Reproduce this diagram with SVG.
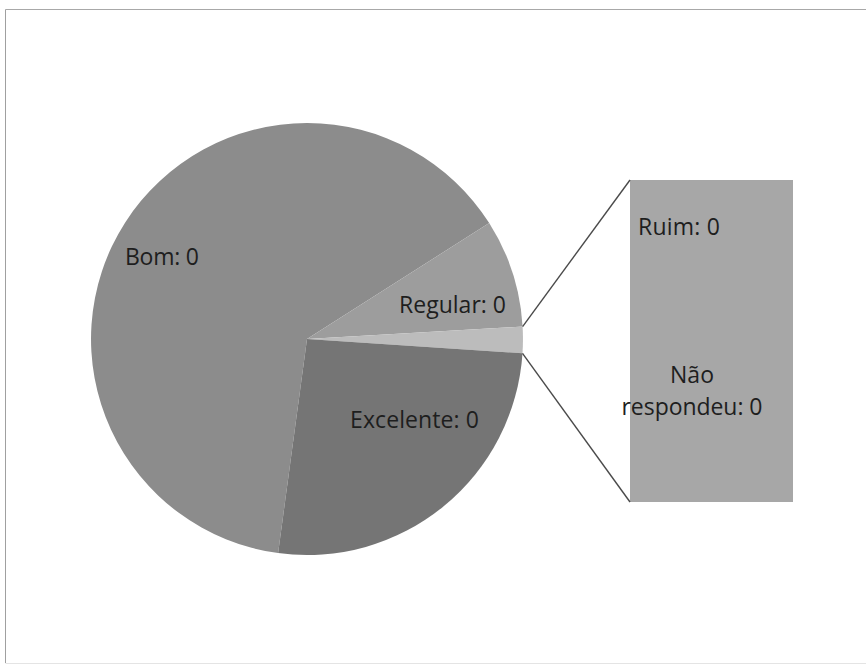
<svg xmlns="http://www.w3.org/2000/svg" width="866" height="666" viewBox="0 0 866 666">
  <style>
    .lbl { font-family: "Open Sans", "Liberation Sans", sans-serif; font-size: 23px; fill: #1e1e1e; }
    .conn { stroke: #4a4a4a; stroke-width: 1.4; fill: none; }
  </style>
  <rect x="0" y="0" width="866" height="666" fill="#ffffff"/>
  <g id="frame">
    <line x1="5.5" y1="9.5" x2="866" y2="9.5" stroke="#a8a8a8" stroke-width="1"/>
    <line x1="5.5" y1="9.5" x2="5.5" y2="663" stroke="#a0a0a0" stroke-width="1"/>
    <line x1="5.5" y1="663.5" x2="866" y2="663.5" stroke="#e4e4e4" stroke-width="1"/>
  </g>
  <g id="bom">
    <path d="M307,339 L278.1,553.1 A216,216 0 1,1 489.2,223 Z" fill="#8c8c8c"/>
    <text class="lbl" x="125" y="265" textLength="74">Bom: 0</text>
  </g>
  <g id="regular">
    <path d="M307,339 L489.2,223 A216,216 0 0,1 522.6,326.6 Z" fill="#9d9d9d"/>
    <text class="lbl" x="399" y="313" textLength="107">Regular: 0</text>
  </g>
  <g id="outros">
    <path d="M307,339 L522.6,326.6 A216,216 0 0,1 522.5,353.3 Z" fill="#bcbcbc"/>
  </g>
  <g id="excelente">
    <path d="M307,339 L522.5,353.3 A216,216 0 0,1 278.1,553.1 Z" fill="#757575"/>
    <text class="lbl" x="350" y="428" textLength="129">Excelente: 0</text>
  </g>
  <g id="ruim">
    <rect x="630" y="180" width="163" height="161" fill="#a7a7a7"/>
    <text class="lbl" x="638" y="235" textLength="82">Ruim: 0</text>
  </g>
  <g id="nao-respondeu">
    <rect x="630" y="341" width="163" height="161" fill="#a7a7a7"/>
    <text class="lbl" x="692" y="383" text-anchor="middle">Não</text>
    <text class="lbl" x="692" y="415" text-anchor="middle" textLength="141">respondeu: 0</text>
  </g>
  <g id="connectors">
    <line class="conn" x1="522.6" y1="326.6" x2="630" y2="180"/>
    <line class="conn" x1="522.5" y1="353.3" x2="630" y2="502"/>
  </g>
</svg>
